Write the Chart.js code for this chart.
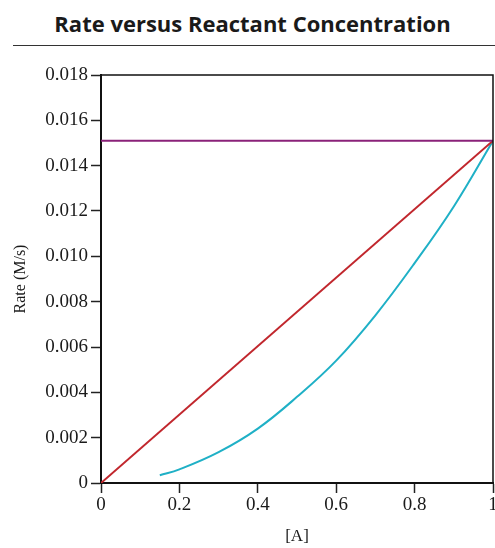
<!DOCTYPE html>
<html>
<head>
<meta charset="utf-8">
<script src="https://cdn.jsdelivr.net/npm/chart.js@4/dist/chart.umd.min.js"></script>
<style>
    body { margin: 0; width: 495px; height: 548px; overflow: hidden; background: #fff; position: relative; }
    #title {
        position: absolute; left: 5px; top: 12px; width: 495px; text-align: center; line-height: 22px;
        font-family: "Open Sans", sans-serif; font-weight: bold; font-size: 22px; color: #1a1a1a;
    }
    #rule { position: absolute; left: 13px; top: 45px; width: 482px; height: 0; border-top: 1.5px solid #333; }
    #wrap { position: absolute; left: 0; top: 0; width: 510px; height: 548px; }
</style>
</head>
<body>
<div id="title">Rate versus Reactant Concentration</div>
<div id="rule"></div>
<div id="wrap"><canvas id="rateChart"></canvas></div>
<script>
// values
const zeroOrderA = [0, 1];
const zeroOrderRate = [0.0151, 0.0151];

const firstOrderA = [0, 1];
const firstOrderRate = [0, 0.0151];

const secondOrderA = [0.15, 0.2, 0.3, 0.4, 0.5, 0.6, 0.7, 0.8, 0.9, 1.0];
const secondOrderRate = [0.00034, 0.0006, 0.00136, 0.0024, 0.0038, 0.0054, 0.0074, 0.0097, 0.0122, 0.0151];

const xTicks = [0, 0.2, 0.4, 0.6, 0.8, 1];
const yTicks = [0, 0.002, 0.004, 0.006, 0.008, 0.010, 0.012, 0.014, 0.016, 0.018];

function toPoints(xs, ys) {
    return xs.map((x, i) => ({ x: x, y: ys[i] }));
}

const serifFamily = '"Liberation Serif", "Times New Roman", serif';
const tickFont = { family: serifFamily, size: 19 };

// top and right edges of the plot box
const frame = {
    id: 'frame',
    afterDraw(chart) {
        const a = chart.chartArea;
        const ctx = chart.ctx;
        ctx.save();
        ctx.strokeStyle = '#111';
        ctx.lineWidth = 1.5;
        ctx.beginPath();
        ctx.moveTo(a.left, a.top);
        ctx.lineTo(a.right, a.top);
        ctx.lineTo(a.right, a.bottom);
        ctx.stroke();
        ctx.restore();
    }
};

new Chart(document.getElementById('rateChart'), {
    type: 'scatter',
    data: {
        datasets: [
            {
                data: toPoints(zeroOrderA, zeroOrderRate),
                showLine: true, borderColor: '#8a2279', borderWidth: 2, pointRadius: 0
            },
            {
                data: toPoints(firstOrderA, firstOrderRate),
                showLine: true, borderColor: '#c1272d', borderWidth: 2, pointRadius: 0
            },
            {
                data: toPoints(secondOrderA, secondOrderRate),
                showLine: true, borderColor: '#1fb0c6', borderWidth: 2, pointRadius: 0,
                tension: 0.4
            }
        ]
    },
    options: {
        responsive: true,
        maintainAspectRatio: false,
        animation: false,
        layout: { padding: { top: 75, right: 17, left: 0, bottom: 0 } },
        plugins: { legend: { display: false }, tooltip: { enabled: false } },
        scales: {
            x: {
                type: 'linear', min: 0, max: 1,
                afterBuildTicks: (s) => { s.ticks = xTicks.map(v => ({ value: v })); },
                afterFit: (s) => { s.height = 65; },
                grid: { drawOnChartArea: false, drawTicks: true, tickLength: 10, tickColor: '#222', tickWidth: 1.5 },
                border: { color: '#111', width: 2 },
                ticks: {
                    color: '#1a1a1a', font: tickFont, padding: 1, maxRotation: 0,
                    callback: (v) => v === 0 || v === 1 ? String(v) : v.toFixed(1)
                },
                title: { display: true, text: '[A]', color: '#1a1a1a', font: { family: serifFamily, size: 17 }, padding: { top: 0, bottom: 1 } }
            },
            y: {
                type: 'linear', min: 0, max: 0.018,
                afterBuildTicks: (s) => { s.ticks = yTicks.map(v => ({ value: v })); },
                afterFit: (s) => { s.width = 101; },
                grid: { drawOnChartArea: false, drawTicks: true, tickLength: 10, tickColor: '#222', tickWidth: 1.5 },
                border: { color: '#111', width: 2 },
                ticks: {
                    color: '#1a1a1a', font: tickFont, padding: 3,
                    callback: (v) => v === 0 ? '0' : v.toFixed(3)
                },
                title: { display: true, text: 'Rate (M/s)', color: '#1a1a1a', font: { family: serifFamily, size: 16 }, padding: { top: 11, bottom: 0 } }
            }
        }
    },
    plugins: [frame]
});
</script>
</body>
</html>
